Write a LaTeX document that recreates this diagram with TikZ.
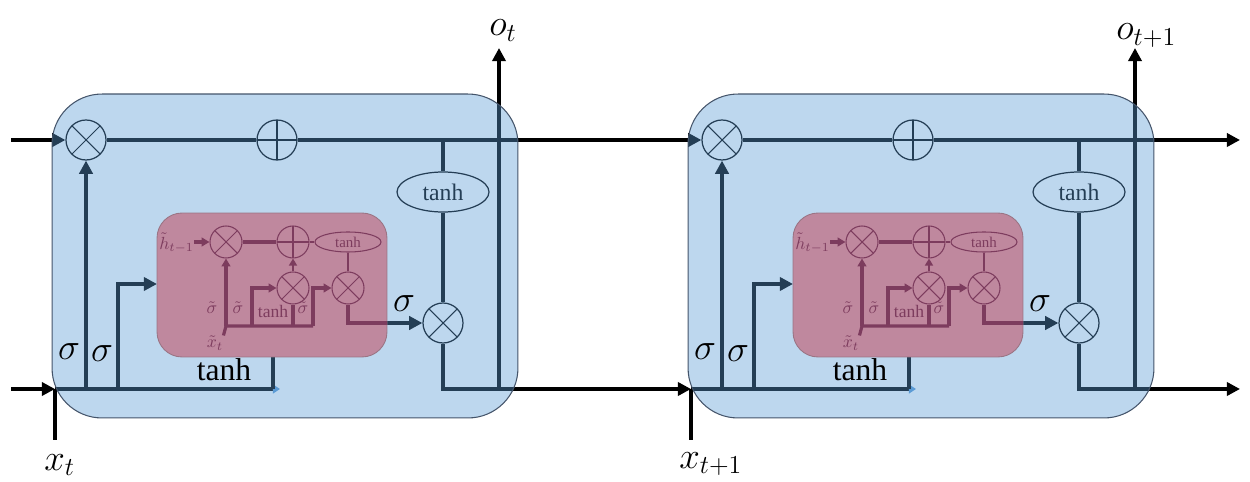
\RequirePackage{fix-cm}
\documentclass[tikz,border=0pt]{standalone}
\usepackage{fontspec}
\setmainfont{Liberation Serif}
\usetikzlibrary{arrows.meta, shapes.geometric}

\definecolor{cellblue}{HTML}{5B9BD5}
\definecolor{cellrim}{HTML}{44546A}
\definecolor{gatepink}{HTML}{BF889E}
\definecolor{gaterim}{HTML}{9A7484}
\definecolor{gateline}{HTML}{7D3C5E}

\tikzset{
  mulop/.style={circle, draw, line width=0.7pt, minimum size=0.8cm, inner sep=0pt,
    path picture={\draw[line width=0.6pt] (path picture bounding box.north west) -- (path picture bounding box.south east)
      (path picture bounding box.north east) -- (path picture bounding box.south west);}},
  addop/.style={circle, draw, line width=0.7pt, minimum size=0.8cm, inner sep=0pt,
    path picture={\draw[line width=0.6pt] (path picture bounding box.north) -- (path picture bounding box.south)
      (path picture bounding box.east) -- (path picture bounding box.west);}},
  actfun/.style={ellipse, draw, line width=0.7pt, minimum width=1.84cm, minimum height=0.8cm, inner sep=0pt,
    font=\fontsize{13.5}{15}\selectfont},
  gnode/.style={color=gateline, line width=0.6pt, minimum size=0.64cm},
  cellbox/.style={rectangle, rounded corners=1cm, fill=cellblue, fill opacity=0.4, draw=cellrim,
    line width=0.6pt, minimum width=9.32cm, minimum height=6.48cm},
  gatebox/.style={rectangle, rounded corners=0.5cm, fill=gatepink, draw=gaterim, line width=0.5pt,
    minimum width=4.6cm, minimum height=2.88cm},
  wire/.style={line width=2pt},
  wirea/.style={wire, -{Triangle[length=7.5pt,width=7.5pt]}},
  gwire/.style={gateline, line width=1.8pt},
  gwirea/.style={gwire, -{Triangle[length=4.5pt,width=5pt]}},
  gmid/.style={gateline, line width=1.2pt},
  gthina/.style={gateline, line width=1pt, -{Triangle[length=4pt,width=4.5pt]}},
  biglbl/.style={font=\fontsize{21}{24}\selectfont, inner sep=0pt},
  glbl/.style={text=gateline, font=\fontsize{10}{11}\selectfont, inner sep=0pt}
}

\begin{document}
\begin{tikzpicture}[x=0.02cm, y=-0.02cm]
  \useasboundingbox (0,0) rectangle (1250,482);

  % wires and operators of both cells
  \foreach \i/\dx in {1/0,2/636}{
    \node[mulop] (mA\i) at (86+\dx,140) {};
    \node[addop] (pA\i) at (277+\dx,140) {};
    \node[actfun] (tA\i) at (443+\dx,192) {tanh};
    \node[mulop] (mO\i) at (443+\dx,323) {};
    \coordinate (jT\i) at (443+\dx,140);
    \coordinate (xin\i) at (55+\dx,389);
    \coordinate (xbot\i) at (55+\dx,440);
    \coordinate (jF\i) at (86+\dx,389);
    \coordinate (jI\i) at (118+\dx,389);
    \coordinate (jB\i) at (273+\dx,389);
    \coordinate (jE\i) at (280+\dx,389);
    \coordinate (gIn\i) at (157+\dx,284);
    \coordinate (gOut\i) at (348+\dx,323);
    \coordinate (oB\i) at (499+\dx,389);
    \coordinate (oT\i) at (499+\dx,48);
    \draw[wire] (mA\i) -- (pA\i);
    \draw[wire] (jT\i) -- (tA\i);
    \draw[wire] (tA\i) -- (mO\i);
    \draw[wire] (xbot\i) -- (xin\i);
    \draw[wire] (xin\i) -- (jB\i);
    \draw[line width=1pt, -{Triangle[length=4pt,width=5pt,color=cellblue]}] (jB\i) -- (jE\i);
    \draw[wirea] (jF\i) -- (mA\i);
    \draw[wirea] (jI\i) |- (gIn\i);
    \draw[wire] (jB\i) -- ++(0,-32);
    \draw[wirea] (gOut\i) -- (mO\i);
    \draw[wirea] (oB\i) -- (oT\i);
  }

  % links between cells
  \coordinate (inT) at (11,140);
  \coordinate (inB) at (11,389);
  \coordinate (outT) at (1240,140);
  \coordinate (outB) at (1240,389);
  \draw[wirea] (inT) -- (mA1);
  \draw[wirea] (inB) -- (xin1);
  \draw[wirea] (pA1) -- (mA2);
  \draw[wirea] (mO1) |- (xin2);
  \draw[wirea] (pA2) -- (outT);
  \draw[wirea] (mO2) |- (outB);

  % cell bodies and inner gate
  \foreach \i/\dx in {1/0,2/636}{
    \node[cellbox] (cell\i) at (285+\dx,256) {};
    \node[gatebox] (gate\i) at (272+\dx,285) {};
    \node[mulop, gnode] (mIa\i) at (226+\dx,242) {};
    \node[addop, gnode] (pIa\i) at (293+\dx,242) {};
    \node[actfun, gnode, minimum width=1.32cm, minimum height=0.4cm, font=\fontsize{8.5}{9}\selectfont] (tIa\i) at (348+\dx,242) {tanh};
    \node[mulop, gnode] (mIb\i) at (293+\dx,288) {};
    \node[mulop, gnode] (mIc\i) at (348+\dx,288) {};
    \node[glbl, anchor=east] (hl\i) at (194+\dx,243) {$\tilde{h}_{t-1}$};
    \node[glbl] (xl\i) at (215+\dx,343) {$\tilde{x}_t$};
    \coordinate (jx\i) at (226+\dx,326);
    \coordinate (jg\i) at (252+\dx,326);
    \coordinate (jh\i) at (293+\dx,326);
    \coordinate (jk\i) at (313+\dx,326);
    \draw[gwirea] (hl\i.east |- mIa\i) -- (mIa\i);
    \draw[gwire] (mIa\i) -- (pIa\i);
    \draw[gmid] (pIa\i) -- (tIa\i);
    \draw[gmid] (tIa\i) -- (mIc\i);
    \draw[gthina] (mIb\i) -- (pIa\i);
    \draw[gwire] (xl\i.north east) -- (jx\i) -- (jk\i);
    \draw[gwirea] (jx\i) -- (mIa\i);
    \draw[gwirea] (jg\i) |- (mIb\i);
    \draw[gwire] (jh\i) -- (mIb\i);
    \draw[gwirea] (jk\i) |- (mIc\i);
    \draw[gwire] (mIc\i) |- (gate\i.east |- gOut\i);
    \node[glbl] (sa\i) at (212+\dx,308) {$\tilde{\sigma}$};
    \node[glbl] (sb\i) at (238+\dx,308) {$\tilde{\sigma}$};
    \node[glbl] (ta\i) at (273+\dx,311) {tanh};
    \node[glbl] (sc\i) at (303+\dx,308) {$\tilde{\sigma}$};
    \node[biglbl] (sF\i) at (69+\dx,352) {$\sigma$};
    \node[biglbl] (sI\i) at (102+\dx,354) {$\sigma$};
    \node[biglbl, font=\fontsize{18}{20}\selectfont] (tC\i) at (224+\dx,370) {tanh};
    \node[biglbl] (sO\i) at (404+\dx,304) {$\sigma$};
  }

  % inputs and outputs
  \node[biglbl, anchor=base west] (ol1) at (489,36) {$o_t$};
  \node[biglbl, anchor=base west] (ol2) at (1116,40) {$o_{t+1}$};
  \node[biglbl, anchor=base west] (xl1) at (44,470) {$x_t$};
  \node[biglbl, anchor=base west] (xl2) at (679,468) {$x_{t+1}$};
\end{tikzpicture}
\end{document}
